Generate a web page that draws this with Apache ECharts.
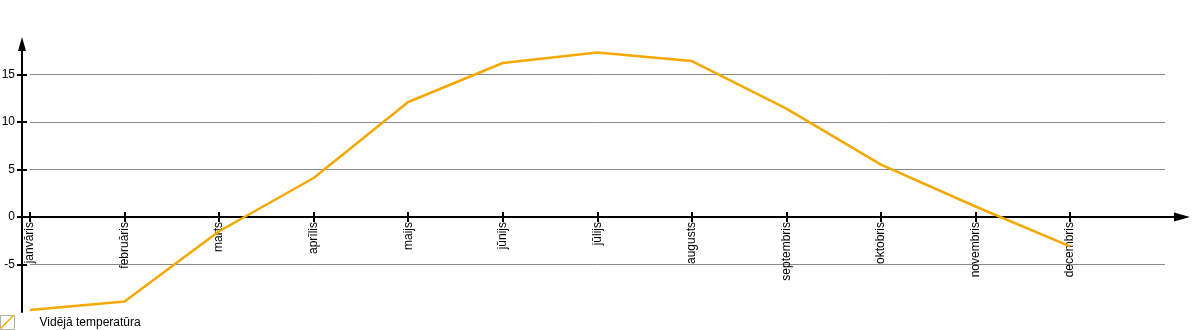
<!DOCTYPE html>
<html>
<head>
<meta charset="utf-8">
<script src="https://cdn.jsdelivr.net/npm/echarts@6/dist/echarts.min.js"></script>
<style>
html,body{margin:0;padding:0;background:#fff;}
#chart{width:1200px;height:330px;}
</style>
</head>
<body>
<div id="chart"></div>
<script>
// ---- data ----
const months = ['janvāris','februāris','marts','aprīlis','maijs','jūnijs','jūlijs','augusts','septembris','oktobris','novembris','decembris'];
const temperature = [-9.8, -8.9, -1.5, 4.1, 12.1, 16.2, 17.3, 16.4, 11.4, 5.5, 1.1, -3.1];
const seriesName = 'Vidējā temperatūra';
const yTicks = [-5, 0, 5, 10, 15];

// ---- chart ----
const monthIdx = months.map((m, i) => i);
const font = 'Liberation Sans, Arial, sans-serif';
const orange = '#F5A800';
const xMin = -0.0846, xMax = 12.184;
const yMin = -10, yMax = 18.2;
const gridTop = 44, gridBottom = 18, chartH = 330;
// distance from grid bottom to the zero line, derived from the y scale
const zeroOffset = (chartH - gridTop - gridBottom) * (0 - yMin) / (yMax - yMin);

const chart = echarts.init(document.getElementById('chart'), null, {renderer: 'canvas'});
chart.setOption({
  animation: false,
  backgroundColor: '#fff',
  textStyle: {fontFamily: font},
  grid: [
    {left: 22, right: 18, top: gridTop, bottom: gridBottom, containLabel: false, outerBoundsMode: 'none'},
    {left: 30, right: 35, top: gridTop, bottom: gridBottom, containLabel: false, outerBoundsMode: 'none'}
  ],
  legend: [
    {
      data: [seriesName], left: 0, top: 315, padding: 0,
      itemWidth: 14, itemHeight: 14, icon: 'rect', selectedMode: false,
      itemStyle: {color: '#ffffff', borderColor: '#b5b5a5', borderWidth: 1},
      textStyle: {fontSize: 12, color: '#000', fontFamily: font, padding: [0, 0, 0, 20]}
    },
    {
      data: [seriesName], left: 0, top: 315, padding: 0,
      itemWidth: 14, itemHeight: 14, selectedMode: false,
      icon: 'path://M0,13L13,0L14,1L1,14Z',
      itemStyle: {color: orange, borderWidth: 0},
      formatter: () => '',
      textStyle: {fontSize: 12}
    }
  ],
  xAxis: [
    {
      type: 'value', gridIndex: 0, min: xMin, max: xMax, position: 'bottom', offset: -zeroOffset,
      axisLine: {show: true, onZero: false, lineStyle: {color: '#000', width: 2},
                 symbol: ['none', 'triangle'], symbolSize: [9, 16]},
      axisTick: {show: true, customValues: monthIdx, length: 5, lineStyle: {color: '#000', width: 2}},
      axisLabel: {customValues: monthIdx, rotate: 90, margin: 5, color: '#000', fontSize: 12,
                  fontFamily: font, formatter: v => months[Math.round(v)] || ''},
      splitLine: {show: false}
    },
    {
      type: 'value', gridIndex: 0, min: xMin, max: xMax, position: 'bottom', offset: -zeroOffset,
      axisLine: {show: false, onZero: false},
      axisTick: {show: true, inside: true, customValues: monthIdx, length: 5, lineStyle: {color: '#000', width: 2}},
      axisLabel: {show: false},
      splitLine: {show: false}
    },
    {type: 'value', gridIndex: 1, min: xMin, max: xMax, show: false}
  ],
  yAxis: [
    {
      type: 'value', gridIndex: 0, min: yMin, max: yMax, position: 'left',
      axisLine: {show: true, onZero: false, lineStyle: {color: '#000', width: 2},
                 symbol: ['none', 'triangle'], symbolSize: [8, 14]},
      axisTick: {show: true, customValues: yTicks, length: 5, lineStyle: {color: '#000', width: 2}},
      axisLabel: {customValues: yTicks, margin: 7, color: '#000', fontSize: 12, fontFamily: font},
      splitLine: {show: false}
    },
    {
      type: 'value', gridIndex: 0, min: yMin, max: yMax, position: 'left',
      axisLine: {show: false, onZero: false},
      axisTick: {show: true, inside: true, customValues: yTicks, length: 5, lineStyle: {color: '#000', width: 2}},
      axisLabel: {show: false},
      splitLine: {show: false}
    },
    {
      type: 'value', gridIndex: 1, min: yMin, max: yMax,
      axisLine: {show: false, onZero: false},
      axisTick: {show: false, customValues: yTicks},
      axisLabel: {show: false},
      splitLine: {show: true, lineStyle: {color: '#8c8890', width: 1}}
    }
  ],
  series: [
    {
      name: seriesName, type: 'line', xAxisIndex: 0, yAxisIndex: 0,
      data: months.map((m, i) => [i, temperature[i]]),
      symbol: 'none', color: orange,
      lineStyle: {color: orange, width: 2.5}
    }
  ]
});
</script>
</body>
</html>
